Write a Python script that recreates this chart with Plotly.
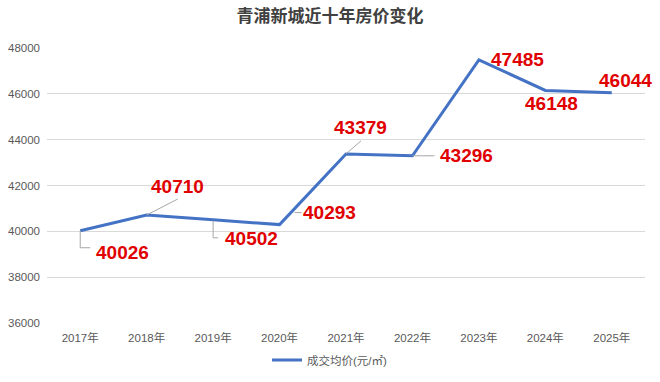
import plotly.graph_objects as go

years = ["2017年", "2018年", "2019年", "2020年", "2021年", "2022年", "2023年", "2024年", "2025年"]
prices = [40026, 40710, 40502, 40293, 43379, 43296, 47485, 46148, 46044]
y_ticks = [36000, 38000, 40000, 42000, 44000, 46000, 48000]
title_text = "青浦新城近十年房价变化"
series_name = "成交均价(元/㎡)"

# label placement: offset of text centre from its point, in screen pixels (x right, y down)
label_dx = [42, 31, 38, 50, 14, 54, 39, 6, 14]
label_dy = [22, -29, 19, -12, -26, 0, 0, 13, -12]
# leader line paths in pixels relative to the point (x right, y up)
leaders = [
    "M0,0 L0,-17 L10,-17",
    "M0,0 L31,16",
    "M0,-1 L0,-18 L5,-18",
    "M15,12 L22,12",
    "M0,0 L15,13",
    "M0,0 L22,0",
    None,
    None,
    None,
]

LINE = "#4472C4"
RED = "#E00000"
GRID = "#D9D9D9"
TXT = "#595959"
FONT = "Liberation Sans, Arial, Noto Sans CJK SC, sans-serif"

fig = go.Figure()
fig.add_trace(go.Scatter(
    x=years, y=prices, mode="lines", name=series_name,
    line=dict(color=LINE, width=3),
    showlegend=True, hoverinfo="skip",
))

annotations = []
shapes = []
for i, (yr, v) in enumerate(zip(years, prices)):
    annotations.append(dict(
        x=yr, y=v, xref="x", yref="y", text=f"<b>{v}</b>", showarrow=False,
        xshift=label_dx[i], yshift=-label_dy[i], xanchor="center", yanchor="middle",
        font=dict(family=FONT, size=19, color=RED),
    ))
    if leaders[i]:
        shapes.append(dict(
            type="path", xref="x", yref="y", xsizemode="pixel", ysizemode="pixel",
            xanchor=yr, yanchor=v, path=leaders[i],
            line=dict(color="#A6A6A6", width=1), layer="above",
        ))

fig.update_layout(
    width=660, height=382,
    margin=dict(l=47, r=15, t=48, b=59, autoexpand=False),
    paper_bgcolor="white", plot_bgcolor="white",
    title=dict(text=f"<b>{title_text}</b>", x=0.5, xref="container", xanchor="center",
               y=1 - 16 / 382, yref="container", yanchor="middle",
               font=dict(family="Noto Sans CJK SC, sans-serif", size=17, color="#404040")),
    xaxis=dict(type="category", range=[-0.5, len(years) - 0.5], showgrid=False,
               showline=False, zeroline=False, ticks="", automargin=False,
               ticklabelstandoff=6,
               tickfont=dict(family=FONT, size=11.5, color=TXT)),
    yaxis=dict(range=[36000, 48000], tickvals=y_ticks, ticktext=[str(t) for t in y_ticks],
               showgrid=True, gridcolor=GRID, gridwidth=1, zeroline=False, showline=False,
               ticks="", ticklabelstandoff=6, automargin=False,
               tickfont=dict(family=FONT, size=11.5, color=TXT)),
    legend=dict(orientation="h", x=0.5, xref="container", xanchor="center",
                y=1 - 360 / 382, yref="container", yanchor="middle",
                font=dict(family="Liberation Sans, Noto Sans CJK SC, sans-serif", size=11.5, color=TXT)),
    annotations=annotations,
    shapes=shapes,
    showlegend=True,
)

fig.write_html("out.html", config={"displayModeBar": False, "staticPlot": True},
               post_script="document.body.style.margin='0px';document.body.style.overflow='hidden';")
